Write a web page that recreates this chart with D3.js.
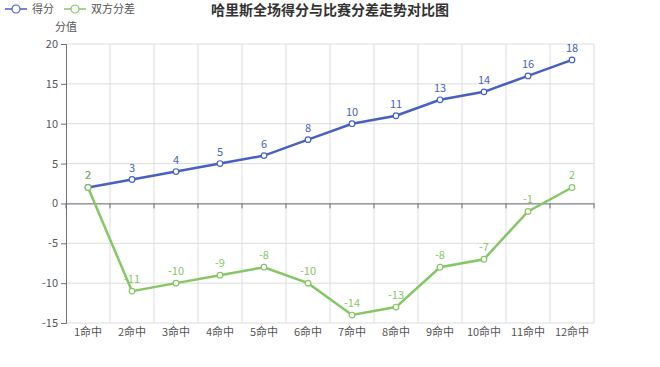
<!DOCTYPE html>
<html><head><meta charset="utf-8">
<script src="https://cdn.jsdelivr.net/npm/d3@7/dist/d3.min.js"></script>
<style>body{margin:0;background:#fff;font-family:"Noto Sans CJK SC","Microsoft YaHei",sans-serif;}</style>
</head><body><svg id="c" width="660" height="367"></svg>
<script>
const categories = ["1命中","2命中","3命中","4命中","5命中","6命中","7命中","8命中","9命中","10命中","11命中","12命中"];
const scoreValues = [2,3,4,5,6,8,10,11,13,14,16,18];
const diffValues = [2,-11,-10,-9,-8,-10,-14,-13,-8,-7,-1,2];
const yTicks = [-15,-10,-5,0,5,10,15,20];
const seriesNames = ["得分","双方分差"];
const colors = ["#4661c0","#85c766"];

const svg = d3.select("#c");
const font = '"Noto Sans CJK SC", sans-serif';
const L = 66, R = 594, T = 44, B = 323;
const x = d3.scaleBand().domain(categories).range([L, R]);
const y = d3.scaleLinear().domain([-15, 20]).range([B, T]);

// grid
svg.append("g").selectAll("line.h").data(yTicks).join("line")
  .attr("x1", L).attr("x2", R).attr("y1", d => y(d)).attr("y2", d => y(d))
  .attr("stroke", "#dcdcdc").attr("stroke-width", 1);
const bounds = categories.map(c => x(c)).concat([R]).slice(1);
svg.append("g").selectAll("line.v").data(bounds).join("line")
  .attr("x1", d => d).attr("x2", d => d).attr("y1", T).attr("y2", B)
  .attr("stroke", "#dcdcdc").attr("stroke-width", 1);

// y axis
const ya = svg.append("g").attr("transform", `translate(${L},0)`)
  .call(d3.axisLeft(y).tickValues(yTicks).tickSize(5).tickPadding(3).tickFormat(d => String(d)));
ya.select(".domain").attr("stroke", "#6e7079");
ya.selectAll(".tick line").attr("stroke", "#6e7079");
ya.selectAll("text").attr("fill", "#555").style("font-size", "11px").style("font-family", font);

// x axis at zero
const xa = svg.append("g").attr("transform", `translate(0,${y(0)})`)
  .call(d3.axisBottom(x).tickSize(0).tickFormat(""));
xa.select(".domain").attr("stroke", "#6e7079");
xa.selectAll(".tick").remove();
svg.append("g").selectAll("line").data([L].concat(bounds)).join("line")
  .attr("x1", d => d).attr("x2", d => d).attr("y1", y(0)).attr("y2", y(0) + 5)
  .attr("stroke", "#6e7079");
svg.append("g").selectAll("text").data(categories).join("text")
  .attr("x", d => x(d) + x.bandwidth() / 2).attr("y", B + 13)
  .attr("text-anchor", "middle").attr("fill", "#555")
  .style("font-size", "11px").style("font-family", font).text(d => d);

// y name
svg.append("text").attr("x", L).attr("y", 31).attr("text-anchor", "middle")
  .attr("fill", "#555").style("font-size", "11px").style("font-family", font).text("分值");

// title
svg.append("text").attr("x", 330).attr("y", 15).attr("text-anchor", "middle")
  .attr("fill", "#333").style("font-size", "14px").style("font-weight", "bold")
  .style("font-family", font).text("哈里斯全场得分与比赛分差走势对比图");

// series
const cx = d => x(d) + x.bandwidth() / 2;
[scoreValues, diffValues].forEach((vals, i) => {
  const g = svg.append("g");
  const pts = vals.map((v, j) => [cx(categories[j]), y(v), v]);
  g.selectAll("text").data(pts).join("text")
    .attr("x", d => d[0]).attr("y", d => d[1] - 8).attr("text-anchor", "middle")
    .attr("fill", colors[i]).style("font-size", "11px").style("font-family", font)
    .text(d => String(d[2]));
  g.append("path").datum(pts).attr("d", d3.line().x(d => d[0]).y(d => d[1]))
    .attr("fill", "none").attr("stroke", colors[i]).attr("stroke-width", 2.5);
  g.selectAll("circle").data(pts).join("circle")
    .attr("cx", d => d[0]).attr("cy", d => d[1]).attr("r", 2.8)
    .attr("fill", "#fff").attr("stroke", colors[i]).attr("stroke-width", 1.2);
});

// legend
const lg = svg.append("g");
let lx = 5;
seriesNames.forEach((n, i) => {
  const gy = 9;
  lg.append("line").attr("x1", lx).attr("x2", lx + 22).attr("y1", gy).attr("y2", gy)
    .attr("stroke", colors[i]).attr("stroke-width", 1.5);
  lg.append("circle").attr("cx", lx + 11).attr("cy", gy).attr("r", 4)
    .attr("fill", "#fff").attr("stroke", colors[i]).attr("stroke-width", 1.2);
  const t = lg.append("text").attr("x", lx + 27).attr("y", gy + 4).attr("fill", "#555")
    .style("font-size", "11px").style("font-family", font).text(n);
  lx += 27 + t.node().getComputedTextLength() + 10;
});
</script></body></html>
